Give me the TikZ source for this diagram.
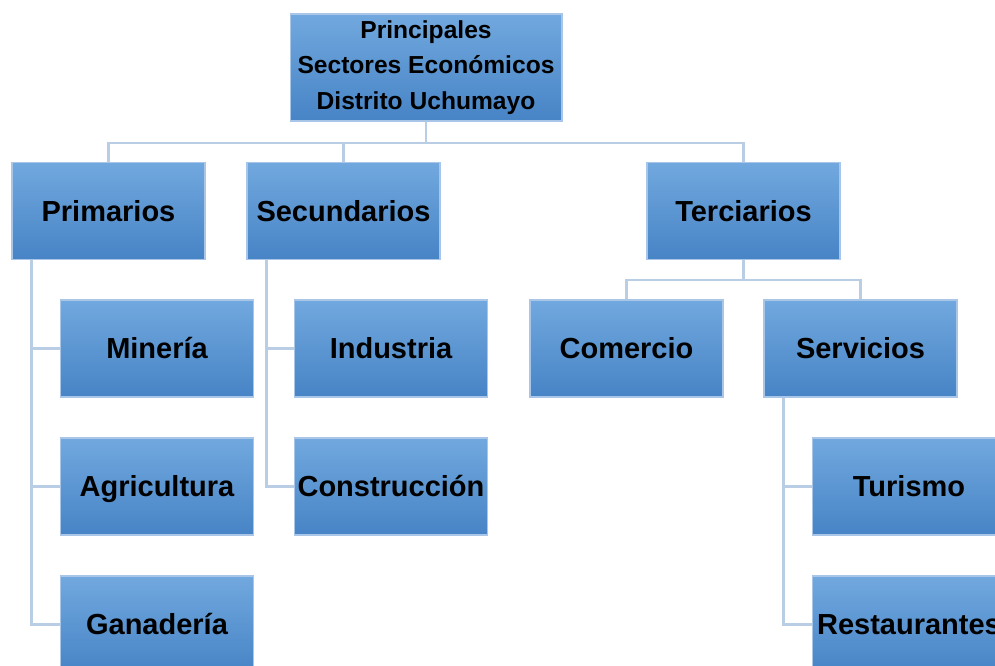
\documentclass[tikz,border=0pt]{standalone}
\usepackage{fontspec}
\setmainfont{Liberation Sans}
\definecolor{boxtop}{HTML}{71A8DE}
\definecolor{boxbot}{HTML}{4784C6}
\definecolor{boxline}{HTML}{A9C6E8}
\definecolor{connline}{HTML}{B9CDE4}
\tikzset{
    caja/.style={draw=boxline, line width=0.6pt, top color=boxtop, bottom color=boxbot,
        inner sep=0pt, align=center},
    sector/.style={caja, minimum width=3.86cm, minimum height=1.94cm,
        text height=11.8pt, text depth=0pt, font=\fontsize{16.5}{20}\selectfont\bfseries},
    titulo/.style={caja, minimum width=5.44cm, minimum height=2.14cm,
        font=\fontsize{14}{20.4}\selectfont\bfseries},
    conn/.style={draw=connline, line width=1.3pt}
}
\begin{document}
\begin{tikzpicture}[x=0.02cm, y=-0.02cm]
        %marco del dibujo
        \useasboundingbox (0,0) rectangle (995,666);
        \clip (0,0) rectangle (995,666);
        %conectores
        \coordinate (bus) at (426,143);
        \coordinate (busT) at (743.5,280);
        %nodos
        \node[titulo] (top) at (426,67.5)
            {Principales\\Sectores Económicos\\Distrito Uchumayo};
        \node[sector] (prim) at (108.5,211) {Primarios};
        \node[sector] (sec) at (343.5,211) {Secundarios};
        \node[sector] (terc) at (743.5,211) {Terciarios};
        \node[sector] (min) at (157,348.5) {Minería};
        \node[sector] (agr) at (157,486.5) {Agricultura};
        \node[sector] (gan) at (157,624.5) {Ganadería};
        \node[sector] (ind) at (391,348.5) {Industria};
        \node[sector] (cons) at (391,486.5) {Construcción};
        \node[sector] (com) at (626.5,348.5) {Comercio};
        \node[sector] (serv) at (860.5,348.5) {Servicios};
        \node[sector] (tur) at (909,486.5) {Turismo};
        \node[sector] (rest) at (909,624.5) {Restaurantes};
        %primer nivel
        \draw[conn] (top.south) -- (bus);
        \draw[conn] (prim.north) |- (bus) -| (terc.north);
        \draw[conn] (sec.north) -- (sec.north |- bus);
        %ramas laterales
        \foreach \hijo in {min,agr,gan}
            \draw[conn] ([xshift=0.4cm]prim.south west) |- (\hijo.west);
        \foreach \hijo in {ind,cons}
            \draw[conn] ([xshift=0.4cm]sec.south west) |- (\hijo.west);
        \foreach \hijo in {tur,rest}
            \draw[conn] ([xshift=0.4cm]serv.south west) |- (\hijo.west);
        %terciarios
        \draw[conn] (terc.south) -- (busT);
        \draw[conn] (com.north) |- (busT) -| (serv.north);
        \end{tikzpicture}
\end{document}
